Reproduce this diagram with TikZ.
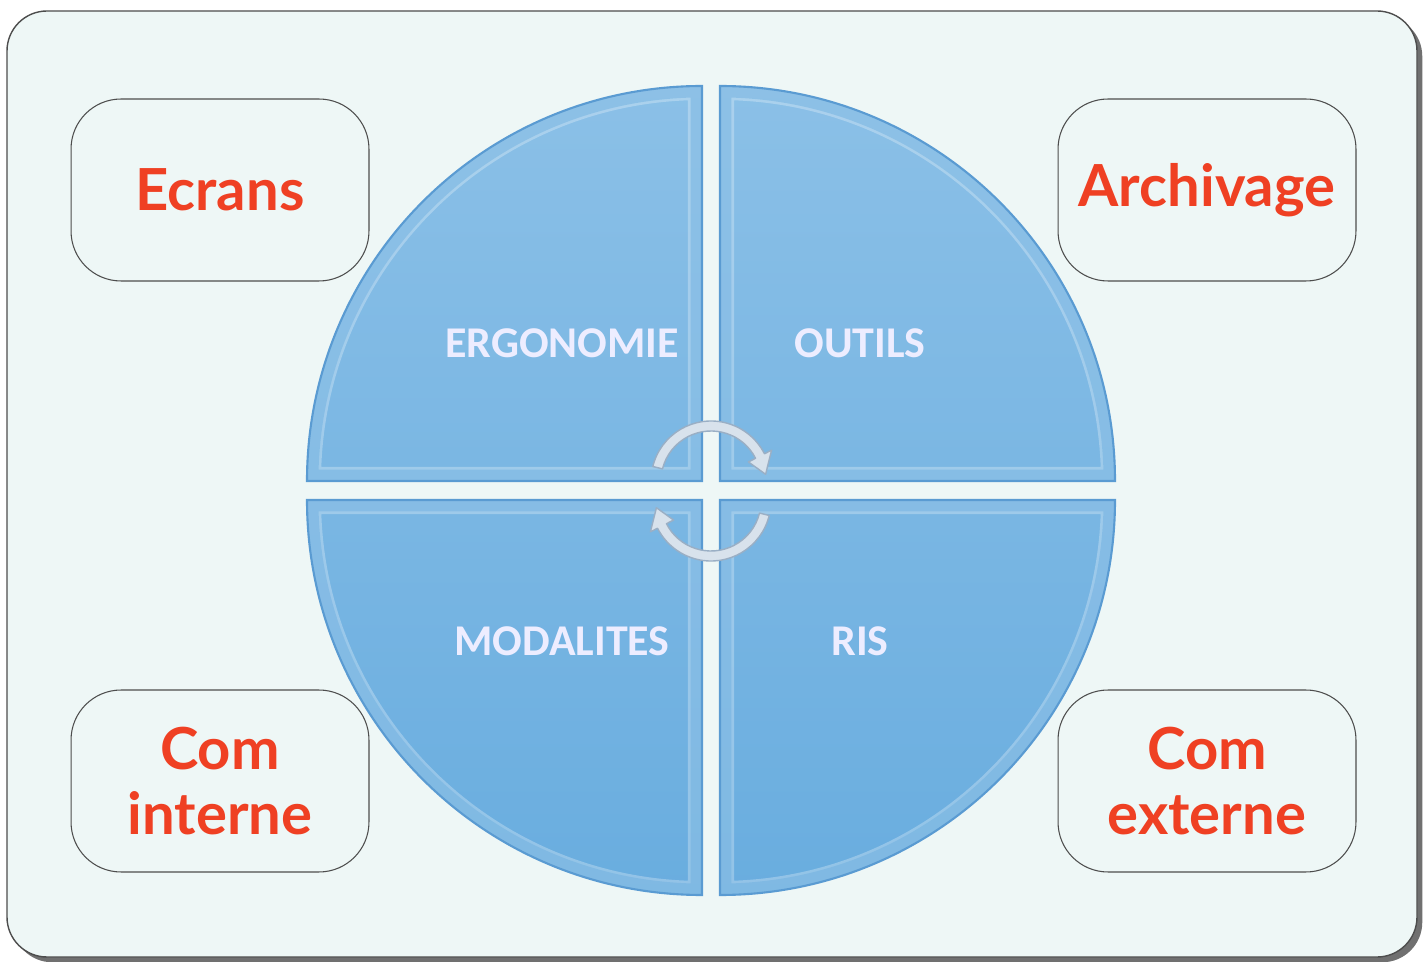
\documentclass[tikz,border=0pt]{standalone}
\usepackage{fontspec}
\setmainfont{Lato}
\newfontfamily\quarterfont{Carlito}
\usetikzlibrary{arrows.meta,shadows}
\definecolor{FrameBG}{HTML}{EEF7F6}
\definecolor{FrameLine}{HTML}{4D4D4D}
\definecolor{TopicRed}{HTML}{EF4023}
\definecolor{QuarterBlue}{HTML}{69ADDF}
\definecolor{QuarterLight}{HTML}{8BC0E7}
\definecolor{QuarterEdge}{HTML}{5A9BD2}
\definecolor{ArrowFill}{HTML}{D8E2EC}
\definecolor{ArrowLine}{HTML}{9AAFC5}

\begin{document}
\begin{tikzpicture}[
    x=0.02cm, y=-0.02cm,
    >=Stealth,
    % cadres des themes
    topicbox/.style={draw=FrameLine, line width=0.6pt, rounded corners=1cm,
        minimum width=5.96cm, minimum height=3.64cm, inner sep=0pt,
        align=center, text=TopicRed, font=\fontsize{33}{37}\selectfont\bfseries},
    % textes des quarts
    quarterlabel/.style={text=white!93!blue, font=\quarterfont\bfseries\fontsize{25}{28}\selectfont},
    turnarrow/.style={fill=ArrowFill, draw=ArrowLine, line width=0.8pt, line join=round}
]

    \useasboundingbox (0,0) rectangle (1427,962);
    \def\r{395}

    % --- 1. fond ---
    \draw[FrameLine, line width=0.8pt, fill=FrameBG, rounded corners=0.8cm,
        drop shadow={shadow xshift=3pt, shadow yshift=-3pt, fill=black!70, opacity=0.8}]
        (7,11) rectangle (1417,957);

    % --- 2. les quatre quarts ---
    \foreach \cx/\cy/\a in {702/481/180, 720/481/270, 702/500/90, 720/500/0} {
        \begin{scope}
            \path[clip] (\cx,\cy) -- ++(\a:\r) arc[start angle=\a, delta angle=90, radius=\r] -- cycle;
            \shade[top color=QuarterLight, bottom color=QuarterBlue]
                (\cx-\r,\cy-\r) rectangle (\cx+\r,\cy+\r);
            % biseau
            \draw[white, opacity=0.28, line width=16pt]
                (\cx,\cy) -- ++(\a:\r) arc[start angle=\a, delta angle=90, radius=\r] -- cycle;
            \draw[QuarterBlue, opacity=0.45, line width=13pt]
                (\cx,\cy) -- ++(\a:\r) arc[start angle=\a, delta angle=90, radius=\r] -- cycle;
        \end{scope}
        \draw[QuarterEdge, line width=1.2pt]
            (\cx,\cy) -- ++(\a:\r) arc[start angle=\a, delta angle=90, radius=\r] -- cycle;
    }

    \node[quarterlabel] (ergo) at (562,343) {ERGONOMIE};
    \node[quarterlabel] (outils) at (860,343) {OUTILS};
    \node[quarterlabel] (modal) at (562,641) {MODALITES};
    \node[quarterlabel] (ris) at (860,641) {RIS};

    % --- 3. fleches tournantes ---
    \draw[turnarrow] ([shift={(194:60)}]711,481) arc[start angle=194, end angle=333, radius=60]
        -- ([shift={(333:68)}]711,481) -- ([shift={(353:55)}]711,481)
        -- ([shift={(333:42)}]711,481) -- ([shift={(333:50)}]711,481)
        arc[start angle=333, end angle=194, radius=50] -- cycle;
    \draw[turnarrow] ([shift={(14:60)}]711,501) arc[start angle=14, end angle=153, radius=60]
        -- ([shift={(153:68)}]711,501) -- ([shift={(173:55)}]711,501)
        -- ([shift={(153:42)}]711,501) -- ([shift={(153:50)}]711,501)
        arc[start angle=153, end angle=14, radius=50] -- cycle;

    % --- 4. themes autour ---
    \node[topicbox] (ecrans) at (220,190) {Ecrans};
    \node[topicbox] (archivage) at (1207,190) {Archivage};
    \node[topicbox] (cominterne) at (220,781) {Com\\interne};
    \node[topicbox] (comexterne) at (1207,781) {Com\\externe};

\end{tikzpicture}
\end{document}
